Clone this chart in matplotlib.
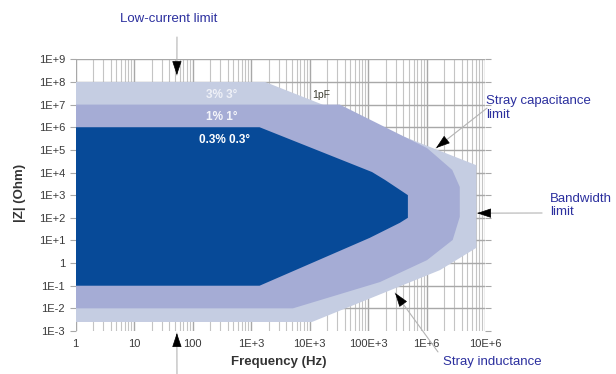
###############################################################################
#0. Import Modules & Define Data
###############################################################################

import matplotlib
matplotlib.use('Agg')
import matplotlib.pyplot as plt
import matplotlib.ticker as ticker
import numpy as np

#Accuracy regions (frequency in Hz, impedance in Ohm)
lightFreq = [1, 1.74e3, 7.1e6, 7.1e6, 1.7e6, 1.1e4, 1] #3% 3deg region
lightZ = [1e8, 1e8, 2.1e4, 4.7, 0.49, 2.5e-3, 2.5e-3]
mediumFreq = [1, 3.3e4, 1.02e6, 2.75e6, 3.7e6, 3.7e6, 2.8e6, 1.02e6, 1.6e5, 5.2e3, 1] #1% 1deg region
mediumZ = [1e7, 1e7, 1.2e5, 1.3e4, 2.3e3, 110, 10.5, 1.35, 0.145, 0.01, 0.01]
darkFreq = [1, 1.4e3, 1.17e5, 1.95e5, 4.8e5, 4.8e5, 3.5e5, 1.07e5, 1.4e3, 1] #0.3% 0.3deg region
darkZ = [1e6, 1e6, 1.05e4, 4.7e3, 1e3, 100, 60, 13, 0.1, 0.1]

#Region labels
regionLabels = ['3% 3°', '1% 1°', '0.3% 0.3°']
regionLabelFreq = [316, 316, 350]
regionLabelZ = [2.6e7, 2.8e6, 2.7e5]
regionLabelColours = ['#eef0f7', '#f4f5fa', 'white']

#Axis ticks
xTicks = [1, 1e1, 1e2, 1e3, 1e4, 1e5, 1e6, 1e7]
xTickLabels = ['1', '10', '100', '1E+3', '10E+3', '100E+3', '1E+6', '10E+6']
yTicks = [10.0**k for k in range(-3, 10)]
yTickLabels = ['1E-3', '1E-2', '1E-1', '1', '1E+1', '1E+2', '1E+3', '1E+4', '1E+5', '1E+6', '1E+7', '1E+8', '1E+9']

#Limit annotations: label, label position (figure fraction), arrow tip (data), line start (figure fraction)
limitLabels = ['Low-current limit', 'Stray capacitance\nlimit', 'Bandwidth\nlimit', 'Stray inductance', '']
limitLabelPos = [(0.195, 0.949), (0.789, 0.711), (0.893, 0.451), (0.719, 0.032), None]
limitTips = [(54, 2e8), (1.45e6, 1.2e5), (7.3e6, 160), (2.9e5, 0.048), (54, 8.1e-4)]
limitLineStart = [(0.2873, 0.901), (0.7906, 0.711), (0.880, 0.4305), (0.711, 0.059), (0.2873, 0.0)]

#Colours and fonts
lightColour = '#c5cde2'
mediumColour = '#a5acd5'
darkColour = '#074a98'
noteColour = '#2b2f9e'
textGrey = '#3a3a3a'
sansFont = ['Liberation Sans', 'DejaVu Sans']

###############################################################################
#1. Plot Figure
###############################################################################

fig = plt.figure(figsize=(6.16, 3.74), dpi=100)
ax = fig.add_axes([0.1226, 0.115, 0.6648, 0.7264])
ax.set_xscale('log')
ax.set_yscale('log')
ax.set_xlim(1, 1e7)
ax.set_ylim(1e-3, 1e9)

#Regions, largest first
ax.fill(lightFreq, lightZ, color=lightColour, lw=0, zorder=2)
ax.fill(mediumFreq, mediumZ, color=mediumColour, lw=0, zorder=3)
ax.fill(darkFreq, darkZ, color=darkColour, lw=0, zorder=4)

#Region labels
for i, label in enumerate(regionLabels):
    ax.text(regionLabelFreq[i], regionLabelZ[i], label, color=regionLabelColours[i], fontsize=8.5, fontweight='bold', ha='center', va='center', zorder=5, family=sansFont)
ax.text(1.6e4, 2.6e7, '1pF', color='#3c3c30', fontsize=7.5, ha='center', va='center', zorder=5, family=sansFont)

#Grid and ticks
ax.set_axisbelow(True)
for spine in ax.spines.values():
    spine.set_visible(False)
ax.xaxis.set_major_locator(ticker.FixedLocator(xTicks))
ax.xaxis.set_major_formatter(ticker.FixedFormatter(xTickLabels))
ax.xaxis.set_minor_locator(ticker.LogLocator(base=10, subs=np.arange(2, 10), numticks=20))
ax.xaxis.set_minor_formatter(ticker.NullFormatter())
ax.yaxis.set_major_locator(ticker.FixedLocator(yTicks))
ax.yaxis.set_major_formatter(ticker.FixedFormatter(yTickLabels))
ax.yaxis.set_minor_locator(ticker.NullLocator())
ax.grid(which='major', axis='both', color='#a8a8a8', lw=1.0)
ax.grid(which='minor', axis='x', color='#c4c4c4', lw=0.8)
ax.tick_params(axis='x', which='both', length=0, pad=6, labelsize=8, labelcolor=textGrey)
ax.tick_params(axis='y', which='major', length=4, width=0.8, color='#a8a8a8', pad=3.5, labelsize=8, labelcolor=textGrey, right=True)
for label in ax.get_xticklabels() + ax.get_yticklabels():
    label.set_family(sansFont)
ax.yaxis.get_major_ticks()[0].gridline.set_visible(False) #No line along the bottom edge

#Axis titles
fig.text(20/616, 1-193/374, '|Z| (Ohm)', rotation=90, ha='center', va='center', fontsize=9.5, fontweight='bold', color='#333333', family=sansFont)
fig.text(279/616, 1-362/374, 'Frequency (Hz)', ha='center', va='center', fontsize=9.5, fontweight='bold', color='#333333', family=sansFont)

#Limit annotations with grey leader lines and black heads
for i, tip in enumerate(limitTips):
    if limitLabelPos[i] is not None:
        fig.text(limitLabelPos[i][0], limitLabelPos[i][1], limitLabels[i], color=noteColour, fontsize=9.5, ha='left', va='center', linespacing=1.15, family=sansFont)
    ax.annotate('', xy=tip, xycoords='data', xytext=limitLineStart[i], textcoords='figure fraction', arrowprops=dict(arrowstyle='-', color='#b4b4b4', lw=0.8, shrinkA=0, shrinkB=0), annotation_clip=False, zorder=6)
    tipPix = ax.transData.transform(tip) #Work out head direction in display space
    startPix = fig.transFigure.transform(limitLineStart[i])
    direction = (startPix - tipPix)/np.hypot(*(startPix - tipPix))
    ax.annotate('', xy=tip, xycoords='data', xytext=tuple(direction*9), textcoords='offset points', arrowprops=dict(arrowstyle='-|>,head_length=0.9,head_width=0.3', fc='black', ec='black', lw=0.5, shrinkA=0, shrinkB=0), annotation_clip=False, zorder=7)

###############################################################################
#2. Save Figure
###############################################################################

plt.savefig('out.png', dpi=100)
